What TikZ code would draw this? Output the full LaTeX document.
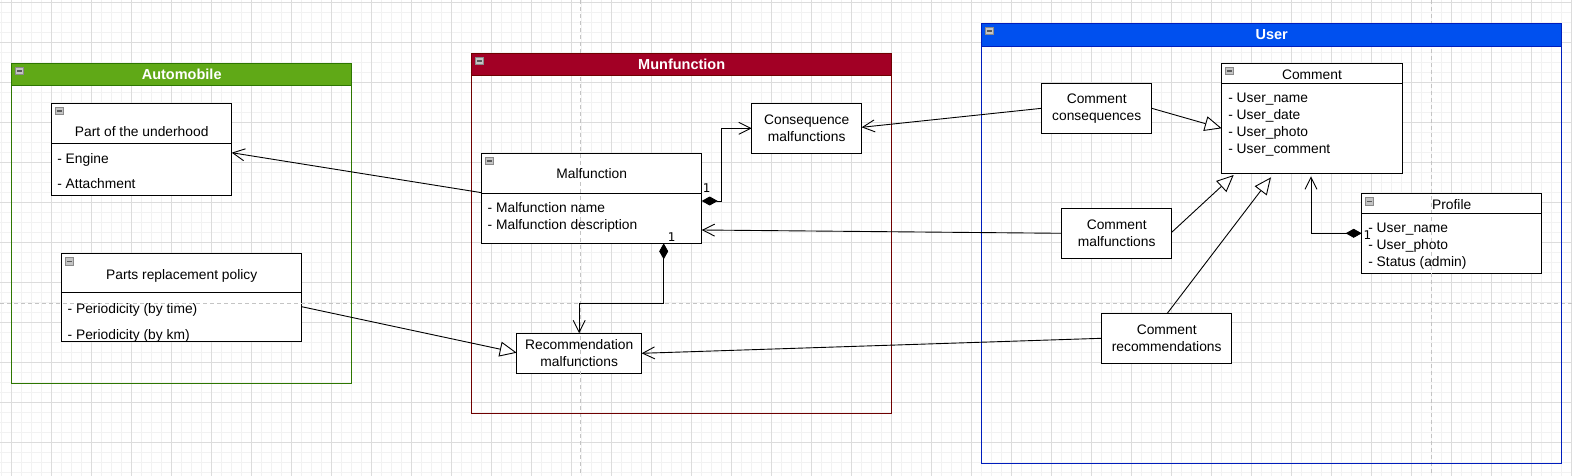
\documentclass[tikz,border=0pt]{standalone}
\usepackage{fontspec}
\setmainfont{Liberation Sans}
\newfontfamily\onefont{DejaVu Sans}
\usetikzlibrary{arrows.meta,calc}
\definecolor{gridminor}{HTML}{F2F2F2}
\definecolor{gridmajor}{HTML}{DCDCDC}
\definecolor{pagebrk}{HTML}{C4C4C4}
\definecolor{autofill}{HTML}{60A917}
\definecolor{autoline}{HTML}{2D7600}
\definecolor{munfill}{HTML}{A20025}
\definecolor{munline}{HTML}{6F0000}
\definecolor{userfill}{HTML}{0050EF}
\definecolor{userline}{HTML}{001DBC}
\definecolor{iconfill}{HTML}{C4C4C4}
\definecolor{iconline}{HTML}{8A8A8A}
\definecolor{iconbar}{HTML}{5A5A5A}
\newcommand\minusicon[1]{%
  \draw[fill=iconfill,draw=iconline,line width=0.6pt] ($(#1.north west)+(4,4)$) rectangle ++(8,7.5);
  \draw[draw=iconbar,line width=1.2pt] ($(#1.north west)+(5.6,7.8)$) -- ++(4.8,0);}
\begin{document}
\begin{tikzpicture}[x=1pt,y=-1pt,
  font=\fontsize{13.8}{16.7}\selectfont,
  box/.style={draw=black,line width=1pt,fill=white,inner sep=0pt,outer sep=0pt,anchor=north west},
  cont/.style={line width=1pt,inner sep=0pt,outer sep=0pt,anchor=north west},
  txt/.style={inner sep=0pt,outer sep=0pt,text=black},
  ctitle/.style={txt,anchor=base},
  items/.style={txt,anchor=north west,align=left},
  twoline/.style={txt,align=center},
  ttl/.style={txt,text=white,font=\fontsize{14.5}{16}\selectfont\bfseries},
  conn/.style={line width=0.9pt,draw=black},
  vee/.style={-{Straight Barb[length=12pt,width=12pt]}},
  tri/.style={-{Triangle[open,length=17pt,width=15pt,fill=white]}},
  comp/.style={{Diamond[length=16pt,width=9pt,fill=black]}-{Straight Barb[length=12pt,width=12pt]}},
  one/.style={txt,font=\onefont\fontsize{12}{12}\selectfont},
  pagebreak/.style={draw=pagebrk,line width=1pt,dash pattern=on 4pt off 3pt},
]
\useasboundingbox (0,0) rectangle (1572,476);
\fill[white] (0,0) rectangle (1572,476);
% grid
\foreach \i in {0,...,157} \draw[gridminor,line width=1pt] (1.7+10*\i,0) -- (1.7+10*\i,476);
\foreach \j in {0,...,47} \draw[gridminor,line width=1pt] (0,2.3+10*\j) -- (1572,2.3+10*\j);
\foreach \i in {0,...,39} \draw[gridmajor,line width=1pt] (11.7+40*\i,0) -- (11.7+40*\i,476);
\foreach \j in {0,...,11} \draw[gridmajor,line width=1pt] (0,2.3+40*\j) -- (1572,2.3+40*\j);

% class boxes
\node[box,minimum width=180,minimum height=92] (hood) at (51.7,103.3) {};
\node[box,minimum width=240,minimum height=87.7] (policy) at (61.7,253.3) {};
\node[box,minimum width=220,minimum height=90] (mal) at (481.7,153.3) {};
\node[box,minimum width=110,minimum height=50] (cons) at (751.7,103.3) {};
\node[box,minimum width=125,minimum height=40] (rec) at (516.7,333.3) {};
\node[box,minimum width=110,minimum height=50] (ccons) at (1041.7,83.3) {};
\node[box,minimum width=180.6,minimum height=110] (comment) at (1221.7,63.3) {};
\node[box,minimum width=110,minimum height=50] (cmal) at (1061.7,208.3) {};
\node[box,minimum width=130,minimum height=50] (crec) at (1101.7,313.3) {};
\node[box,minimum width=180,minimum height=80] (profile) at (1361.7,193.3) {};

% page break lines
\draw[pagebreak] (0,303.3) -- (1572,303.3);
\draw[pagebreak] (580,0) -- (580,476);
\draw[pagebreak] (1431,0) -- (1431,476);

% containers
\node[cont,draw=autoline,minimum width=340,minimum height=320] (auto) at (11.7,63.3) {};
\node[cont,draw=autoline,fill=autofill,minimum width=340,minimum height=22.7] (autobar) at (11.7,63.3) {};
\node[ttl] (autottl) at (autobar.center) {Automobile};
\node[cont,draw=munline,minimum width=420,minimum height=360] (mun) at (471.7,53.3) {};
\node[cont,draw=munline,fill=munfill,minimum width=420,minimum height=22.7] (munbar) at (471.7,53.3) {};
\node[ttl] (munttl) at (munbar.center) {Munfunction};
\node[cont,draw=userline,minimum width=580,minimum height=440] (user) at (981.7,23.3) {};
\node[cont,draw=userline,fill=userfill,minimum width=580,minimum height=23.4] (userbar) at (981.7,23.3) {};
\node[ttl] (userttl) at (userbar.center) {User};
\minusicon{autobar}
\minusicon{munbar}
\minusicon{userbar}

% class contents
\draw[line width=1pt] ($(hood.north west)+(0,40)$) -- ($(hood.north east)+(0,40)$);
\node[ctitle] (hoodttl) at (141.7,136.7) {Part of the underhood};
\node[items,font=\fontsize{13.8}{25.7}\selectfont] (hooditems) at (57.3,153.3) {- Engine\\- Attachment};
\minusicon{hood}

\draw[line width=1pt] ($(policy.north west)+(0,39.4)$) -- ($(policy.north east)+(0,39.4)$);
\node[ctitle] (policyttl) at (181.7,279) {Parts replacement policy};
\node[items,font=\fontsize{13.8}{26}\selectfont] (policyitems) at (67.7,303.3) {- Periodicity (by time)\\- Periodicity (by km)};
\minusicon{policy}

\draw[line width=1pt] ($(mal.north west)+(0,40)$) -- ($(mal.north east)+(0,40)$);
\node[ctitle] (malttl) at (591.7,178.5) {Malfunction};
\node[items,font=\fontsize{13.8}{17.3}\selectfont] (malitems) at (487.7,202.7) {- Malfunction name\\- Malfunction description};
\minusicon{mal}

\node[twoline] (consttl) at (cons.center) {Consequence\\malfunctions};
\node[twoline] (recttl) at (rec.center) {Recommendation\\malfunctions};
\node[twoline] (cconsttl) at (ccons.center) {Comment\\consequences};
\node[twoline] (cmalttl) at (cmal.center) {Comment\\malfunctions};
\node[twoline] (crecttl) at (crec.center) {Comment\\recommendations};

\draw[line width=1pt] ($(comment.north west)+(0,20)$) -- ($(comment.north east)+(0,20)$);
\node[ctitle] (commentttl) at (1312,79.3) {Comment};
\node[items,font=\fontsize{13.8}{17.1}\selectfont] (commentitems) at (1228.3,92.7) {- User\_name\\- User\_date\\- User\_photo\\- User\_comment};
\minusicon{comment}

\draw[line width=1pt] ($(profile.north west)+(0,20)$) -- ($(profile.north east)+(0,20)$);
\node[ctitle] (profilettl) at (1451.7,209) {Profile};
\node[items,font=\fontsize{13.8}{17}\selectfont] (profileitems) at (1368.3,223) {- User\_name\\- User\_photo\\- Status (admin)};
\minusicon{profile}

% connectors
\draw[conn,vee] ($(mal.north west)+(0,39.4)$) -- ($(hood.north east)+(0,49.4)$);
\draw[conn,tri] ($(policy.north east)+(0,53.4)$) -- ($(rec.north west)+(0,19.4)$);
\draw[conn,comp] ($(mal.north east)+(0,47.7)$) -- ++(20,0) |- (cons.west);
\draw[conn,comp] ($(mal.south west)+(182,0)$) -- ++(0,60) -| (rec.north);
\draw[conn,vee] (ccons.west) -- ($(cons.north east)+(0,24)$);
\draw[conn,tri] (ccons.east) -- ($(comment.north west)+(0,65)$);
\draw[conn,vee] (cmal.west) -- ($(mal.north east)+(0,76.7)$);
\draw[conn,tri] ($(cmal.north east)+(0,24)$) -- ($(comment.south west)+(12,1.7)$);
\draw[conn,tri] ($(crec.north west)+(65.6,0)$) -- ($(comment.south west)+(49.3,4)$);
\draw[conn,vee] (crec.west) -- (rec.east);
\draw[conn,comp] (profile.west) -| ($(comment.south west)+(89.3,3)$);

% multiplicity labels
\node[one] (m1) at (706.7,188.3) {1};
\node[one,fill=white,inner sep=1pt] (m2) at (671.7,237.5) {1};
\node[one] (m3) at (1367.5,235.5) {1};
\end{tikzpicture}
\end{document}
